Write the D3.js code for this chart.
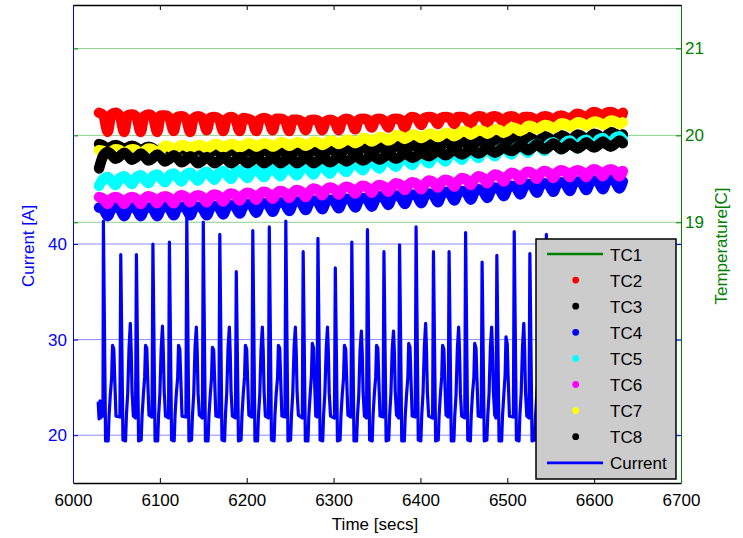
<!DOCTYPE html>
<html><head><meta charset="utf-8">
<script src="https://cdn.jsdelivr.net/npm/d3@7"></script>
<style>
body{margin:0;background:#fff}
svg{display:block}
text{font-family:"Liberation Sans",Arial,Helvetica,sans-serif}
</style>
</head><body>
<svg id="chart" width="743" height="538"></svg>
<script>
// ---------- data ----------
const xTicks = [6000, 6100, 6200, 6300, 6400, 6500, 6600, 6700];
const currentTicks = [20, 30, 40];
const tempTicks = [19, 20, 21];
const legendNames = ["TC1", "TC2", "TC3", "TC4", "TC5", "TC6", "TC7", "TC8", "Current"];

// Current [A] : [time, value]
const currentSeries = [
[6029,23.5],[6030,21.7],[6031,23.6],[6032,21.8],[6033.5,22.2],[6034.5,22.0],
[6035,42.4],[6037.5,19.4],[6040.5,19.4],[6041.5,22],[6043,24.3],[6044.5,26],[6045.5,29.4],[6047,29.0],[6048,26],[6049.5,22],[6054,21.9],
[6055,38.9],[6057.5,19.5],[6060.5,19.4],[6061.5,22.1],[6063,24.4],[6064.5,29.1],[6066,31.7],[6067,28.8],[6068,24.5],[6069.5,22],[6072,21.8],
[6073,38.9],[6075.5,19.4],[6078.5,19.5],[6079.5,22],[6081,24.2],[6082.5,26.1],[6083.5,29.4],[6085,29.1],[6086,25.8],[6087.5,22.1],[6091,21.9],
[6092,40.0],[6094.5,19.4],[6097.5,19.4],[6098.5,22],[6100,24.3],[6101.5,29.0],[6103,31.4],[6104,28.7],[6105,24.6],[6106.5,22],[6110,21.8],
[6111,40.2],[6113.5,19.5],[6116.5,19.4],[6117.5,22.1],[6119,24.4],[6120.5,26],[6121.5,29.4],[6123,29.0],[6124,26.2],[6125.5,22],[6130,21.9],
[6131,42.9],[6133.5,19.4],[6136.5,19.5],[6137.5,22],[6139,24.3],[6140.5,29.2],[6142,31.3],[6143,28.8],[6144,24.4],[6145.5,22.1],[6149,21.8],
[6150,42.3],[6152.5,19.4],[6155.5,19.4],[6156.5,22],[6158,24.2],[6159.5,26],[6160.5,29.2],[6162,28.9],[6163,26],[6164.5,22],[6168,21.9],
[6169,41.0],[6171.5,19.5],[6174.5,19.4],[6175.5,22.1],[6177,24.4],[6178.5,29.1],[6180,31.3],[6181,28.7],[6182,24.5],[6183.5,22],[6187,21.8],
[6188,37.1],[6190.5,19.4],[6193.5,19.5],[6194.5,22],[6196,24.3],[6197.5,26.1],[6198.5,29.4],[6200,29.0],[6201,25.9],[6202.5,22.1],[6206,21.9],
[6207,41.4],[6209.5,19.4],[6212.5,19.4],[6213.5,22],[6215,24.2],[6216.5,29.0],[6218,31.3],[6219,28.8],[6220,24.6],[6221.5,22],[6225,21.8],
[6226,41.8],[6228.5,19.5],[6231.5,19.4],[6232.5,22.1],[6234,24.4],[6235.5,26],[6236.5,29.4],[6238,29.1],[6239,26.1],[6240.5,22],[6244,21.9],
[6245,42.4],[6247.5,19.4],[6250.5,19.5],[6251.5,22],[6253,24.3],[6254.5,29.1],[6256,31.3],[6257,28.8],[6258,24.5],[6259.5,22.1],[6264,21.8],
[6265,39.2],[6267.5,19.4],[6270.5,19.4],[6271.5,22],[6273,24.2],[6274.5,26.2],[6275.5,29.6],[6277,29.1],[6278,26],[6279.5,22],[6281,21.9],
[6282,40.6],[6284.5,19.5],[6287.5,19.4],[6288.5,22.1],[6290,24.4],[6291.5,29.0],[6293,31.3],[6294,28.7],[6295,24.4],[6296.5,22],[6301,21.8],
[6302,37.5],[6304.5,19.4],[6307.5,19.5],[6308.5,22],[6310,24.3],[6311.5,26],[6312.5,29.4],[6314,29.0],[6315,26.1],[6316.5,22.1],[6320,21.9],
[6321,40.2],[6323.5,19.4],[6326.5,19.4],[6327.5,22],[6329,24.2],[6330.5,28.9],[6332,30.9],[6333,28.6],[6334,24.5],[6335.5,22],[6338,21.8],
[6339,41.5],[6341.5,19.5],[6344.5,19.4],[6345.5,22.1],[6347,24.4],[6348.5,26.1],[6349.5,29.4],[6351,29.1],[6352,26],[6353.5,22],[6357,21.9],
[6358,39.2],[6360.5,19.4],[6363.5,19.5],[6364.5,22],[6366,24.3],[6367.5,29.0],[6369,30.9],[6370,28.7],[6371,24.6],[6372.5,22.1],[6375,21.8],
[6376,39.9],[6378.5,19.4],[6381.5,19.4],[6382.5,22],[6384,24.2],[6385.5,26],[6386.5,29.6],[6388,29.2],[6389,26.2],[6390.5,22],[6394,21.9],
[6395,41.8],[6397.5,19.5],[6400.5,19.4],[6401.5,22.1],[6403,24.4],[6404.5,29.2],[6406,31.7],[6407,28.9],[6408,24.5],[6409.5,22],[6414,21.8],
[6415,39.2],[6417.5,19.4],[6420.5,19.5],[6421.5,22],[6423,24.3],[6424.5,26.1],[6425.5,29.4],[6427,29.0],[6428,25.9],[6429.5,22.1],[6432,21.9],
[6433,39.2],[6435.5,19.4],[6438.5,19.4],[6439.5,22],[6441,24.2],[6442.5,29.0],[6444,31.3],[6445,28.8],[6446,24.4],[6447.5,22],[6451,21.8],
[6452,41.2],[6454.5,19.5],[6457.5,19.4],[6458.5,22.1],[6460,24.4],[6461.5,26],[6462.5,29.6],[6464,29.1],[6465,26.1],[6466.5,22],[6470,21.9],
[6471,38.1],[6473.5,19.4],[6476.5,19.5],[6477.5,22],[6479,24.3],[6480.5,29.1],[6482,31.3],[6483,28.7],[6484,24.6],[6485.5,22.1],[6487,21.8],
[6488,38.8],[6490.5,19.4],[6493.5,19.4],[6494.5,22],[6496,24.2],[6497.5,26.3],[6498.5,30.3],[6500,29.5],[6501,26],[6502.5,22],[6507,21.9],
[6508,41.3],[6510.5,19.5],[6513.5,19.4],[6514.5,22.1],[6516,24.4],[6517.5,29.2],[6519,31.7],[6520,28.9],[6521,24.5],[6522.5,22],[6525,21.8],
[6526,39.0],[6528.5,19.4],[6531.5,19.5],[6532.5,22],[6534,24.3],[6535.5,26],[6536.5,29.5],[6538,29.1],[6539,26.1],[6540.5,22.1],[6544,21.9],
[6545,41.0],[6547.5,19.4],[6550.5,19.4],[6551.5,22],[6553,24.2],[6554.5,29.0],[6556,31.0],[6557,28.7],[6558,24.4],[6559.5,22],[6563,21.8],
[6564,40.1],[6566.5,19.5],[6569.5,19.4],[6570.5,22.1],[6572,24.4],[6573.5,26.1],[6574.5,29.5],[6576,29.0],[6577,26],[6578.5,22],[6582,21.9],
[6583,38.6],[6585.5,19.4],[6588.5,19.5],[6589.5,22],[6591,24.3],[6592.5,29.1],[6594,31.2],[6595,28.8],[6596,24.5],[6597.5,22.1],[6601,21.8],
[6602,40.3],[6604.5,19.4],[6607.5,19.4],[6608.5,22],[6610,24.2],[6611.5,26],[6612.5,29.4],[6614,29.1],[6615,26.2],[6616.5,22],[6620,21.9],
[6621,39.4],[6623.5,19.5],[6626.5,19.4],[6627.5,22.1],[6629,24.4],[6630.5,29.0],[6632,31.0],[6633,28.7],[6634,24.5],[6635,22.5]
];

// Temperature sample times [s]
const tempTime = [
6030,6035,6040,6044, 6049,6054,6059,6063, 6068,6073,6078,6082, 6087,6092,6097,6101,
6106,6111,6116,6120, 6125,6130,6135,6139, 6144,6149,6154,6158, 6163,6168,6173,6177,
6182,6187,6192,6196, 6201,6206,6211,6215, 6220,6225,6230,6234, 6239,6244,6249,6253,
6258,6263,6268,6272, 6277,6282,6287,6291, 6296,6301,6306,6310, 6315,6320,6325,6329,
6334,6339,6344,6348, 6353,6358,6363,6367, 6372,6377,6382,6386, 6391,6396,6401,6405,
6410,6415,6420,6424, 6429,6434,6439,6443, 6448,6453,6458,6462, 6467,6472,6477,6481,
6486,6491,6496,6500, 6505,6510,6515,6519, 6524,6529,6534,6538, 6543,6548,6553,6557,
6562,6567,6572,6576, 6581,6586,6591,6595, 6600,6605,6610,6614, 6619,6624,6629,6633
];

const tc1 = [
19.81,19.78,19.77,19.80, 19.81,19.78,19.77,19.80, 19.80,19.77,19.76,19.79, 19.79,19.76,19.75,19.78,
19.79,19.76,19.75,19.78, 19.78,19.75,19.74,19.77, 19.78,19.75,19.74,19.77, 19.78,19.75,19.74,19.77,
19.78,19.75,19.74,19.77, 19.78,19.75,19.74,19.77, 19.78,19.75,19.74,19.77, 19.78,19.75,19.74,19.77,
19.78,19.75,19.74,19.77, 19.78,19.75,19.74,19.77, 19.79,19.76,19.75,19.78, 19.80,19.77,19.76,19.79,
19.81,19.78,19.77,19.80, 19.82,19.79,19.78,19.81, 19.83,19.80,19.79,19.82, 19.84,19.81,19.80,19.83,
19.86,19.83,19.82,19.85, 19.87,19.84,19.83,19.86, 19.88,19.85,19.84,19.87, 19.89,19.86,19.85,19.88,
19.90,19.87,19.86,19.89, 19.91,19.88,19.87,19.90, 19.92,19.89,19.88,19.91, 19.93,19.90,19.89,19.92,
19.94,19.91,19.90,19.93, 19.95,19.92,19.91,19.94, 19.96,19.93,19.92,19.95, 19.97,19.94,19.93,19.96
];
const tc2 = [
20.26,20.23,20.04,20.24, 20.26,20.22,20.04,20.23, 20.24,20.21,20.04,20.22, 20.24,20.21,20.04,20.23,
20.23,20.20,20.05,20.21, 20.22,20.19,20.04,20.20, 20.22,20.20,20.06,20.20, 20.21,20.19,20.05,20.19,
20.21,20.18,20.05,20.20, 20.19,20.17,20.05,20.18, 20.20,20.18,20.06,20.19, 20.19,20.17,20.05,20.18,
20.18,20.16,20.06,20.17, 20.18,20.17,20.06,20.16, 20.18,20.16,20.06,20.17, 20.19,20.17,20.07,20.18,
20.19,20.18,20.09,20.18, 20.19,20.17,20.09,20.18, 20.19,20.18,20.09,20.18, 20.21,20.19,20.12,20.20,
20.21,20.20,20.13,20.20, 20.21,20.20,20.13,20.21, 20.21,20.19,20.13,20.20, 20.22,20.21,20.14,20.21,
20.22,20.20,20.15,20.21, 20.22,20.20,20.14,20.21, 20.21,20.20,20.15,20.20, 20.22,20.21,20.15,20.21,
20.23,20.21,20.16,20.22, 20.25,20.23,20.17,20.24, 20.27,20.25,20.19,20.26, 20.27,20.25,20.19,20.26
];
const tc3 = [
19.90,19.88,19.83,19.87, 19.89,19.87,19.82,19.86, 19.88,19.86,19.81,19.85, 19.87,19.85,19.80,19.84,
19.86,19.84,19.79,19.83, 19.85,19.83,19.78,19.82, 19.84,19.82,19.77,19.81, 19.83,19.81,19.76,19.80,
19.83,19.81,19.76,19.80, 19.82,19.81,19.76,19.80, 19.83,19.81,19.76,19.80, 19.83,19.80,19.76,19.79,
19.83,19.81,19.76,19.80, 19.83,19.81,19.76,19.80, 19.84,19.82,19.77,19.81, 19.85,19.83,19.78,19.82,
19.86,19.84,19.79,19.83, 19.87,19.85,19.80,19.84, 19.88,19.86,19.81,19.85, 19.89,19.87,19.82,19.86,
19.91,19.89,19.84,19.88, 19.92,19.90,19.85,19.89, 19.93,19.91,19.86,19.90, 19.94,19.92,19.87,19.91,
19.95,19.93,19.88,19.92, 19.97,19.95,19.90,19.94, 19.98,19.96,19.91,19.95, 19.99,19.97,19.92,19.96,
20.00,19.98,19.93,19.97, 20.01,19.99,19.94,19.98, 20.02,20.00,19.95,19.99, 20.04,20.02,19.97,20.01
];
const tc4 = [
19.17,19.15,19.07,19.15, 19.17,19.15,19.07,19.15, 19.17,19.15,19.07,19.15, 19.17,19.15,19.07,19.15,
19.18,19.16,19.08,19.16, 19.18,19.16,19.08,19.16, 19.18,19.16,19.08,19.16, 19.19,19.17,19.09,19.17,
19.20,19.18,19.10,19.18, 19.21,19.19,19.11,19.19, 19.22,19.20,19.12,19.20, 19.23,19.21,19.13,19.21,
19.24,19.22,19.14,19.22, 19.25,19.23,19.15,19.23, 19.26,19.24,19.16,19.24, 19.27,19.25,19.17,19.25,
19.28,19.26,19.18,19.26, 19.30,19.28,19.20,19.28, 19.31,19.29,19.21,19.29, 19.32,19.30,19.22,19.30,
19.33,19.31,19.23,19.31, 19.35,19.33,19.25,19.33, 19.36,19.34,19.26,19.34, 19.38,19.36,19.28,19.36,
19.40,19.38,19.30,19.38, 19.42,19.40,19.32,19.40, 19.44,19.42,19.34,19.42, 19.45,19.43,19.35,19.43,
19.46,19.44,19.36,19.44, 19.47,19.45,19.37,19.45, 19.48,19.46,19.38,19.46, 19.49,19.47,19.39,19.47
];
const tc5 = [
19.42,19.50,19.52,19.48, 19.43,19.51,19.53,19.49, 19.44,19.52,19.54,19.50, 19.45,19.53,19.55,19.51,
19.46,19.54,19.56,19.52, 19.47,19.55,19.57,19.53, 19.48,19.56,19.58,19.54, 19.49,19.57,19.59,19.55,
19.50,19.58,19.60,19.56, 19.51,19.59,19.61,19.57, 19.52,19.60,19.62,19.58, 19.53,19.61,19.63,19.59,
19.54,19.62,19.64,19.60, 19.55,19.63,19.65,19.61, 19.56,19.64,19.66,19.62, 19.58,19.66,19.68,19.64,
19.60,19.68,19.70,19.66, 19.62,19.70,19.72,19.68, 19.64,19.72,19.74,19.70, 19.66,19.74,19.76,19.72,
19.68,19.76,19.78,19.74, 19.70,19.78,19.80,19.76, 19.72,19.80,19.82,19.78, 19.74,19.82,19.84,19.80,
19.76,19.84,19.86,19.82, 19.78,19.86,19.88,19.84, 19.80,19.88,19.90,19.86, 19.82,19.90,19.92,19.88,
19.84,19.92,19.94,19.90, 19.85,19.93,19.95,19.91, 19.87,19.95,19.97,19.93, 19.89,19.97,19.99,19.95
];
const tc6 = [
19.29,19.27,19.21,19.27, 19.29,19.27,19.21,19.27, 19.29,19.27,19.21,19.27, 19.30,19.28,19.22,19.28,
19.30,19.28,19.22,19.28, 19.31,19.29,19.23,19.29, 19.31,19.29,19.23,19.29, 19.32,19.30,19.24,19.30,
19.33,19.31,19.25,19.31, 19.34,19.32,19.26,19.32, 19.35,19.33,19.27,19.33, 19.36,19.34,19.28,19.34,
19.37,19.35,19.29,19.35, 19.39,19.37,19.31,19.37, 19.40,19.38,19.32,19.38, 19.41,19.39,19.33,19.39,
19.42,19.40,19.34,19.40, 19.43,19.41,19.35,19.41, 19.45,19.43,19.37,19.43, 19.46,19.44,19.38,19.44,
19.48,19.46,19.40,19.46, 19.49,19.47,19.41,19.47, 19.51,19.49,19.43,19.49, 19.53,19.51,19.45,19.51,
19.55,19.53,19.47,19.53, 19.57,19.55,19.49,19.55, 19.58,19.56,19.50,19.56, 19.59,19.57,19.51,19.57,
19.60,19.58,19.52,19.58, 19.60,19.58,19.52,19.58, 19.61,19.59,19.53,19.59, 19.61,19.59,19.53,19.59
];
const tc7 = [
19.83,19.82,19.77,19.81, 19.84,19.83,19.78,19.82, 19.84,19.83,19.78,19.82, 19.85,19.84,19.79,19.83,
19.88,19.87,19.84,19.86, 19.89,19.88,19.85,19.87, 19.89,19.88,19.85,19.87, 19.90,19.89,19.86,19.88,
19.90,19.89,19.86,19.88, 19.91,19.90,19.87,19.89, 19.91,19.90,19.87,19.89, 19.92,19.91,19.88,19.90,
19.92,19.91,19.88,19.90, 19.93,19.92,19.89,19.91, 19.94,19.93,19.90,19.92, 19.95,19.94,19.91,19.93,
19.97,19.96,19.93,19.95, 19.98,19.97,19.94,19.96, 20.00,19.99,19.96,19.98, 20.01,20.00,19.97,19.99,
20.02,20.01,19.98,20.00, 20.03,20.02,19.99,20.01, 20.05,20.04,20.01,20.03, 20.06,20.05,20.02,20.04,
20.07,20.06,20.03,20.05, 20.09,20.08,20.05,20.07, 20.11,20.10,20.07,20.09, 20.12,20.11,20.08,20.10,
20.14,20.13,20.10,20.12, 20.15,20.14,20.11,20.13, 20.16,20.15,20.12,20.14, 20.17,20.16,20.13,20.15
];
const tc8 = [
19.62,19.77,19.81,19.78, 19.73,19.76,19.80,19.77, 19.72,19.75,19.79,19.76, 19.71,19.74,19.78,19.75,
19.70,19.73,19.77,19.74, 19.69,19.72,19.76,19.73, 19.68,19.71,19.75,19.72, 19.68,19.71,19.75,19.72,
19.68,19.71,19.75,19.72, 19.68,19.71,19.75,19.72, 19.68,19.71,19.75,19.72, 19.68,19.71,19.75,19.72,
19.68,19.71,19.75,19.72, 19.68,19.71,19.75,19.72, 19.69,19.72,19.76,19.73, 19.70,19.73,19.77,19.74,
19.71,19.74,19.78,19.75, 19.72,19.75,19.79,19.76, 19.73,19.76,19.80,19.77, 19.74,19.77,19.81,19.78,
19.76,19.79,19.83,19.80, 19.77,19.80,19.84,19.81, 19.78,19.81,19.85,19.82, 19.79,19.82,19.86,19.83,
19.80,19.83,19.87,19.84, 19.82,19.85,19.89,19.86, 19.83,19.86,19.90,19.87, 19.84,19.87,19.91,19.88,
19.84,19.87,19.91,19.88, 19.85,19.88,19.92,19.89, 19.86,19.89,19.93,19.90, 19.87,19.90,19.94,19.91
];

const tempSeries = [
  {name: "TC1", values: tc1, color: "#008000", kind: "line"},
  {name: "TC2", values: tc2, color: "#ff0000", kind: "dot"},
  {name: "TC3", values: tc3, color: "#000000", kind: "dot"},
  {name: "TC4", values: tc4, color: "#0000ff", kind: "dot"},
  {name: "TC5", values: tc5, color: "#00ffff", kind: "dot"},
  {name: "TC6", values: tc6, color: "#ff00ff", kind: "dot"},
  {name: "TC7", values: tc7, color: "#ffff00", kind: "dot"},
  {name: "TC8", values: tc8, color: "#000000", kind: "dot"}
];

// ---------- layout ----------
const L = 73, R = 681, T = 5, B = 483;
const FONT = 17;
const svg = d3.select("#chart");

const x = d3.scaleLinear().domain([6000, 6700]).range([L, R]);
const yC = d3.scaleLinear().domain([15, 65]).range([B, T]);
const yT = d3.scaleLinear().domain([16, 21.5]).range([B, T]);

// grid
svg.append("g").selectAll("line").data(currentTicks).join("line")
  .attr("x1", L).attr("x2", R).attr("y1", d => yC(d)).attr("y2", d => yC(d))
  .attr("stroke", "#8c8cff").attr("stroke-width", 1);
svg.append("g").selectAll("line").data(tempTicks).join("line")
  .attr("x1", L).attr("x2", R).attr("y1", d => yT(d)).attr("y2", d => yT(d))
  .attr("stroke", "#8fcf8f").attr("stroke-width", 1);

// current line
const curLine = d3.line().x(d => x(d[0])).y(d => yC(d[1]));
svg.append("path").datum(currentSeries).attr("d", curLine)
  .attr("fill", "none").attr("stroke", "#0000ff").attr("stroke-width", 3.2)
  .attr("stroke-linejoin", "round");

// temperatures
const tLine = d3.line().x((d, i) => x(tempTime[i])).y(d => yT(d)).curve(d3.curveMonotoneX);
tempSeries.forEach(s => {
  svg.append("path").datum(s.values).attr("d", tLine)
    .attr("fill", "none").attr("stroke", s.color)
    .attr("stroke-width", s.kind === "line" ? 2 : 10.5)
    .attr("stroke-linejoin", "round").attr("stroke-linecap", "round");
});

// axes
function styleAxis(g, color) {
  g.selectAll("path").attr("stroke", color);
  g.selectAll("line").attr("stroke", color);
  g.selectAll("text").attr("fill", color).attr("font-size", FONT)
    .attr("font-family", '"Liberation Sans",Arial,sans-serif');
}
const fmt = d3.format("d");
const gxB = svg.append("g").attr("transform", `translate(0,${B})`)
  .call(d3.axisBottom(x).tickValues(xTicks).tickSizeInner(-5).tickSizeOuter(0).tickPadding(11).tickFormat(fmt));
styleAxis(gxB, "#000");
gxB.select(".domain").attr("stroke-width", 1.5);
const gxT = svg.append("g").attr("transform", `translate(0,${T})`)
  .call(d3.axisTop(x).tickValues(xTicks).tickSizeInner(-5).tickSizeOuter(0).tickFormat(""));
styleAxis(gxT, "#000");
gxT.select(".domain").attr("stroke-width", 1.5);

const gyL = svg.append("g").attr("transform", `translate(${L},0)`)
  .call(d3.axisLeft(yC).tickValues(currentTicks).tickSizeInner(-5).tickSizeOuter(0).tickPadding(6).tickFormat(fmt));
styleAxis(gyL, "#0000ff");
const gyL2 = svg.append("g").attr("transform", `translate(${L},0)`)
  .call(d3.axisLeft(yT).tickValues(tempTicks).tickSizeInner(-5).tickSizeOuter(0).tickFormat(""));
styleAxis(gyL2, "#008000");
gyL2.select(".domain").remove();

const gyR = svg.append("g").attr("transform", `translate(${R},0)`)
  .call(d3.axisRight(yT).tickValues(tempTicks).tickSizeInner(-5).tickSizeOuter(0).tickPadding(4).tickFormat(fmt));
styleAxis(gyR, "#008000");
const gyR2 = svg.append("g").attr("transform", `translate(${R},0)`)
  .call(d3.axisRight(yC).tickValues(currentTicks).tickSizeInner(-5).tickSizeOuter(0).tickFormat(""));
styleAxis(gyR2, "#0000ff");
gyR2.select(".domain").remove();

// axis titles
svg.append("text").attr("transform", "translate(28,246) rotate(-90)")
  .attr("text-anchor", "middle").attr("dominant-baseline", "central")
  .attr("font-size", FONT).attr("fill", "#0000ff").text("Current [A]");
svg.append("text").attr("transform", "translate(721,246) rotate(-90)")
  .attr("text-anchor", "middle").attr("dominant-baseline", "central")
  .attr("font-size", FONT).attr("fill", "#008000").text("Temperature[C]");
svg.append("text").attr("x", 375).attr("y", 524)
  .attr("text-anchor", "middle").attr("dominant-baseline", "central")
  .attr("font-size", FONT).attr("fill", "#000").text("Time [secs]");

// legend
const lg = svg.append("g");
lg.append("rect").attr("x", 536).attr("y", 239).attr("width", 140).attr("height", 240)
  .attr("fill", "#cccccc").attr("stroke", "#000").attr("stroke-width", 1.5);
const legendItems = tempSeries.map(s => ({name: s.name, color: s.color, kind: s.kind}))
  .concat([{name: legendNames[8], color: "#0000ff", kind: "line"}]);
const ly = d3.scalePoint().domain(legendNames).range([254, 462.8]);
legendItems.forEach(it => {
  const yy = ly(it.name);
  if (it.kind === "line") {
    lg.append("line").attr("x1", 547).attr("x2", 603).attr("y1", yy).attr("y2", yy)
      .attr("stroke", it.color).attr("stroke-width", 2.7);
  } else {
    lg.append("circle").attr("cx", 575.7).attr("cy", yy).attr("r", 3.4).attr("fill", it.color);
  }
  lg.append("text").attr("x", 610).attr("y", yy + 1).attr("dominant-baseline", "central")
    .attr("font-size", FONT).attr("fill", "#000").text(it.name);
});
</script>
</body></html>
